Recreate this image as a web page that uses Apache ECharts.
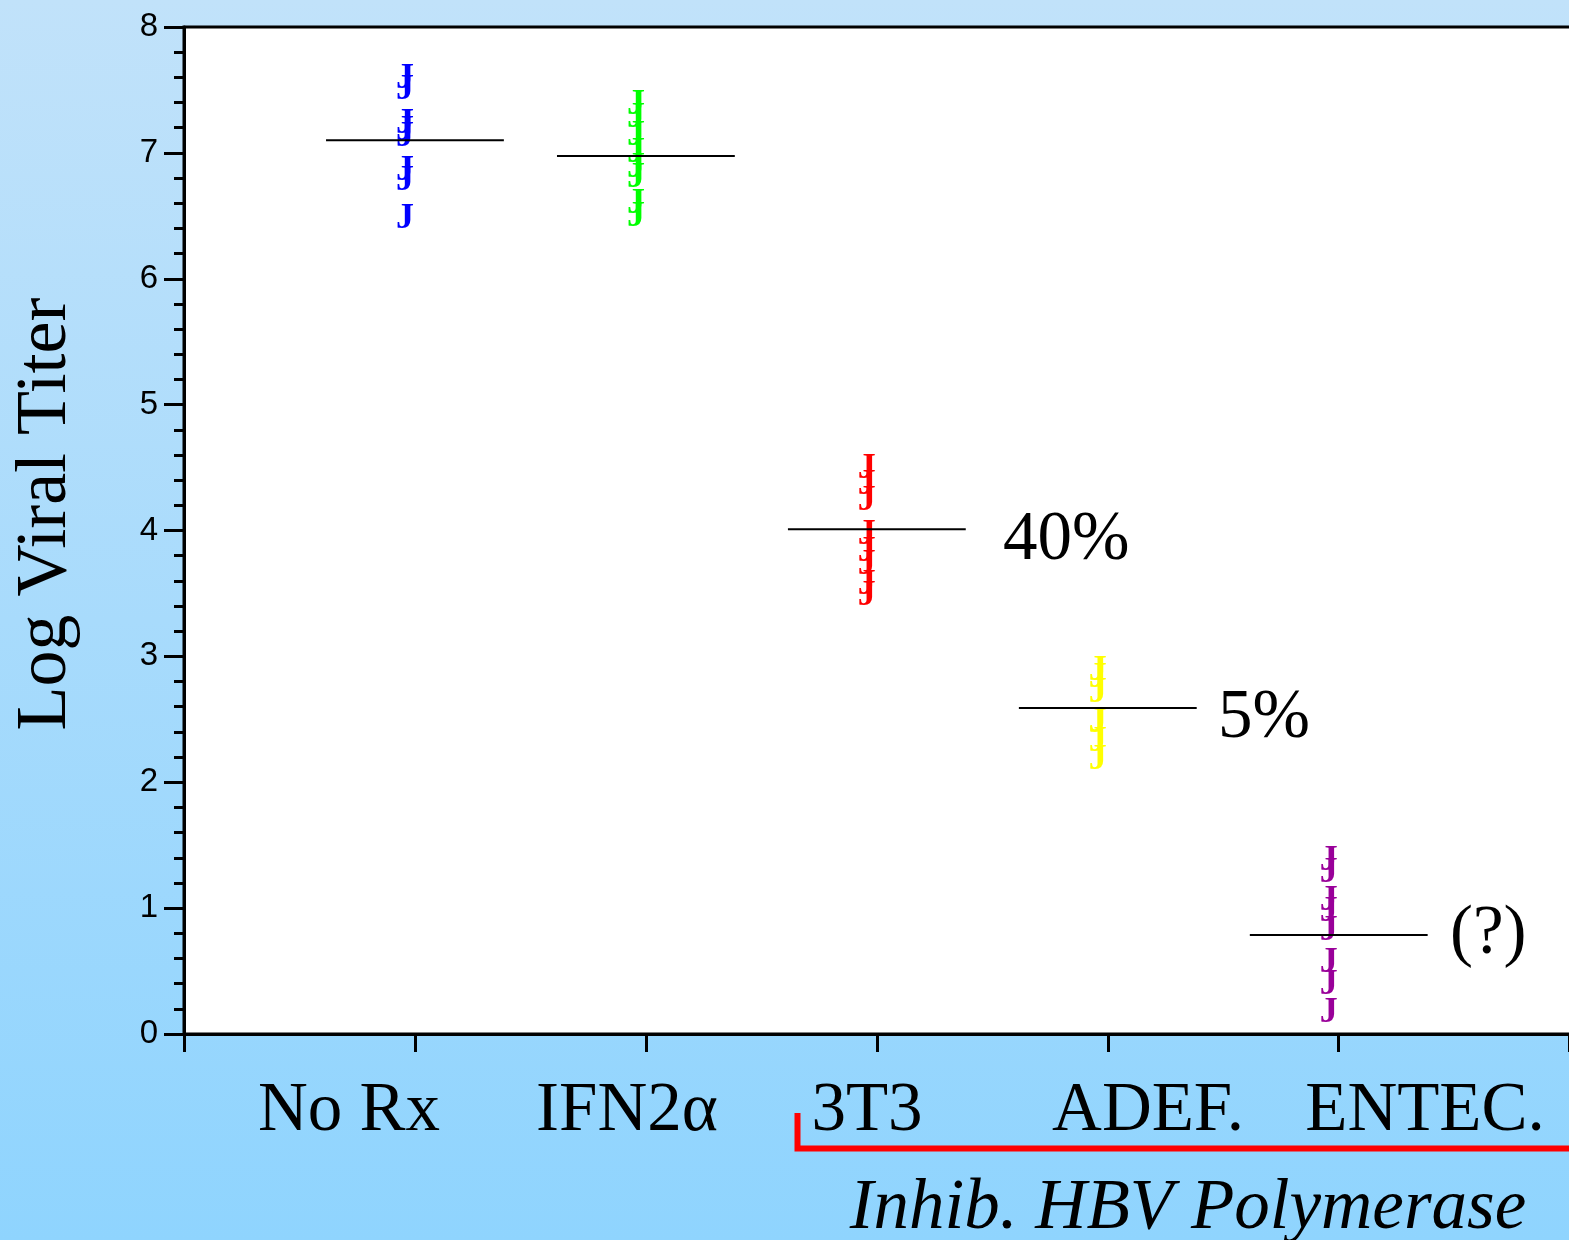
<!DOCTYPE html>
<html>
<head>
<meta charset="utf-8">
<title>Log Viral Titer</title>
<script src="https://cdn.jsdelivr.net/npm/echarts@6/dist/echarts.min.js"></script>
<style>
  html, body { margin: 0; padding: 0; }
  #chart { width: 1569px; height: 1240px; }
</style>
</head>
<body>
<div id="chart"></div>
<script>
// groups on the x axis (1..5)
const categories = ['No Rx', 'IFN2\u03b1', '3T3', 'ADEF.', 'ENTEC.'];
const groupColors = ['#0000ff', '#00ff00', '#ff0000', '#ffff00', '#990099'];

// individual titers
const noRx = [7.59, 7.50, 7.23, 7.18, 7.13, 6.86, 6.78, 6.48];
const ifn = [7.38, 7.28, 7.14, 7.00, 6.88, 6.80, 6.60, 6.49];
const t3t3 = [4.49, 4.36, 4.24, 3.97, 3.83, 3.73, 3.57, 3.48];
const adef = [2.89, 2.83, 2.71, 2.48, 2.47, 2.32, 2.18];
const entec = [1.38, 1.28, 1.06, 0.97, 0.82, 0.57, 0.39, 0.17];

// group means (black bars)
const means = [7.10, 6.975, 4.01, 2.59, 0.787];

// notes next to the means
const notes = ['', '', '40%', '5%', '(?)'];

const yTicks = { min: 0, max: 8, interval: 1 };

const serif = '"Liberation Serif", "Times New Roman", serif';

/**
 * build [x, y] points for the J markers
 */
function buildPoints() {
  const groups = [noRx, ifn, t3t3, adef, entec];
  let points = [];
  for (let g = 0; g < groups.length; g++) {
    for (let i = 0; i < groups[g].length; i++) {
      points.push([g + 1, groups[g][i], g]);
    }
  }
  return points;
}

function renderMarker(params, api) {
  const pt = api.coord([api.value(0), api.value(1)]);
  const g = api.value(2);
  return {
    type: 'text',
    x: pt[0] - 1,
    y: pt[1],
    style: {
      text: 'J',
      fill: groupColors[g],
      font: 'bold 36px ' + serif,
      align: 'right',
      verticalAlign: 'middle'
    }
  };
}

function renderMean(params, api) {
  const x = api.value(0), m = api.value(1);
  const a = api.coord([x - 0.385, m]);
  const b = api.coord([x + 0.385, m]);
  return {
    type: 'line',
    shape: { x1: a[0], y1: a[1], x2: b[0], y2: b[1] },
    style: { stroke: '#000', lineWidth: 2 }
  };
}

// text positions of the labels under the axis (picture has them off-centre)
const labelCenters = [349, 627, 867, 1148, 1425];
const noteLefts = [0, 0, 1003, 1218, 1450];
const noteTops = [0, 0, 541, 719, 935];

function buildGraphics() {
  let items = [];
  items.push({
    type: 'rect',
    z: -10,
    silent: true,
    shape: { x: 0, y: 0, width: 1569, height: 1240 },
    style: {
      fill: new echarts.graphic.LinearGradient(0, 0, 0, 1, [
        { offset: 0, color: '#c1e2fa' },
        { offset: 1, color: '#8fd4fe' }
      ])
    }
  });
  for (let i = 0; i < categories.length; i++) {
    items.push({
      type: 'text',
      x: labelCenters[i],
      y: 1112,
      style: {
        text: categories[i],
        font: 'normal 69px ' + serif,
        fill: '#000',
        align: 'center',
        verticalAlign: 'middle'
      }
    });
    if (notes[i]) {
      items.push({
        type: 'text',
        x: noteLefts[i],
        y: noteTops[i],
        style: {
          text: notes[i],
          font: 'normal 69px ' + serif,
          fill: '#000',
          align: 'left',
          verticalAlign: 'middle'
        }
      });
    }
  }
  // red bracket for the polymerase inhibitors
  items.push({
    type: 'polyline',
    shape: { points: [[797.5, 1113], [797.5, 1148.5], [1575, 1148.5]] },
    style: { stroke: '#ff0000', lineWidth: 6, fill: null }
  });
  items.push({
    type: 'text',
    x: 1188,
    y: 1209,
    style: {
      text: 'Inhib. HBV Polymerase',
      font: 'italic 71px ' + serif,
      fill: '#000',
      align: 'center',
      verticalAlign: 'middle'
    }
  });
  // y axis title
  items.push({
    type: 'text',
    x: 46,
    y: 514,
    rotation: Math.PI / 2,
    style: {
      text: 'Log Viral Titer',
      font: 'normal 72px ' + serif,
      fill: '#000',
      align: 'center',
      verticalAlign: 'middle'
    }
  });
  return items;
}

const chart = echarts.init(document.getElementById('chart'), null, { renderer: 'canvas' });

// plot runs past the right edge of the picture
const option = {
  animation: false,
  backgroundColor: 'transparent',
  graphic: buildGraphics(),
  grid: {
    left: 184,
    top: 27,
    right: -3,
    bottom: 206,
    outerBoundsMode: 'none',
    containLabel: false,
    show: true,
    backgroundColor: '#ffffff',
    borderColor: '#000',
    borderWidth: 3
  },
  xAxis: {
    type: 'value',
    min: 0,
    max: 6.01,
    interval: 1,
    splitLine: { show: false },
    axisLine: { lineStyle: { color: '#000', width: 3 } },
    axisTick: { length: 18, lineStyle: { color: '#000', width: 3 } },
    axisLabel: { show: false }
  },
  yAxis: {
    type: 'value',
    min: yTicks.min,
    max: yTicks.max,
    interval: yTicks.interval,
    splitLine: { show: false },
    axisLine: { show: true, lineStyle: { color: '#000', width: 3 } },
    axisTick: { show: true, length: 20, lineStyle: { color: '#000', width: 3 } },
    minorTick: { show: true, splitNumber: 5, length: 10, lineStyle: { color: '#000', width: 3 } },
    axisLabel: {
      margin: 26,
      color: '#000',
      fontSize: 33,
      fontFamily: '"Liberation Sans", Arial, sans-serif'
    }
  },
  series: [
    {
      type: 'custom',
      renderItem: renderMean,
      data: means.map((m, i) => [i + 1, m]),
      z: 3
    },
    {
      type: 'custom',
      renderItem: renderMarker,
      data: buildPoints(),
      z: 2
    }
  ]
};

chart.setOption(option);
</script>
</body>
</html>
